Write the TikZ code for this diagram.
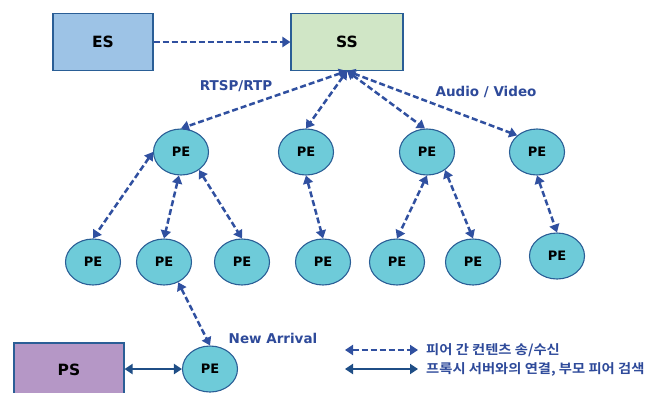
\documentclass[tikz,border=0pt]{standalone}
\usepackage{fontspec}
\setmainfont{DejaVu Sans}
\newfontfamily\krfont{Noto Sans CJK KR}[UprightFont=* Bold]
\usetikzlibrary{arrows.meta,shapes.geometric}
\definecolor{esfill}{HTML}{9DC3E6}
\definecolor{ssfill}{HTML}{D0E6C6}
\definecolor{psfill}{HTML}{B597C6}
\definecolor{pefill}{HTML}{6ECBD9}
\definecolor{bordc}{HTML}{2A5E96}
\definecolor{dashc}{HTML}{3050A0}
\definecolor{solidc}{HTML}{1F4E86}
\definecolor{labc}{HTML}{2E4A9A}
\tikzset{
  boxnode/.style={draw=bordc, line width=1.1pt, minimum width=#1, inner sep=0pt, font=\fontsize{15.5}{15.5}\selectfont\bfseries},
  penode/.style={ellipse, draw=bordc, line width=1.1pt, fill=pefill, minimum width=55pt, minimum height=46pt, inner sep=0pt, font=\fontsize{13}{13}\selectfont\bfseries},
  dasharrow/.style={draw=dashc, line width=2.5pt, dash pattern=on 6pt off 3pt, {Triangle[width=10pt,length=8pt]}-{Triangle[width=10pt,length=8pt]}},
  solidarrow/.style={draw=solidc, line width=2.5pt, {Triangle[width=10pt,length=8pt]}-{Triangle[width=10pt,length=8pt]}},
  lab/.style={text=labc, font=\fontsize{13.5}{13.5}\selectfont\bfseries},
  krlab/.style={text=labc, anchor=west, inner sep=0pt, font=\krfont\fontsize{13}{13}\selectfont}
}
\begin{document}
\begin{tikzpicture}[x=1pt,y=-1pt]
\useasboundingbox (0,0) rectangle (660,392);
% boxes
\node[boxnode=100pt, minimum height=57pt, fill=esfill] (es) at (103,42) {ES};
\node[boxnode=112pt, minimum height=57pt, fill=ssfill] (ss) at (347,42) {SS};
\node[boxnode=110pt, minimum height=54pt, fill=psfill] (ps) at (69,370) {PS};
\coordinate (hub) at (347,71);
% PEs
\node[penode] (pe1) at (181,152) {PE};
\node[penode] (pe2) at (306,152) {PE};
\node[penode] (pe3) at (427,152) {PE};
\node[penode] (pe4) at (537,152) {PE};
\node[penode] (a) at (93,262) {PE};
\node[penode] (b) at (164,262) {PE};
\node[penode] (c) at (242,262) {PE};
\node[penode] (d) at (323,262) {PE};
\node[penode] (e) at (397,262) {PE};
\node[penode] (f) at (473,262) {PE};
\node[penode] (g) at (557,256) {PE};
\node[penode] (pn) at (210,369) {PE};
% arrows
\draw[draw=dashc, line width=2.5pt, dash pattern=on 6pt off 3pt, -{Triangle[width=10pt,length=8pt]}] (es) -- (ss);
\draw[dasharrow] (hub) -- (pe1.north);
\draw[dasharrow] (hub) -- (pe2.north);
\draw[dasharrow] (hub) -- (pe3.95);
\draw[dasharrow] (hub) -- (pe4.140);
\draw[dasharrow] (pe1.west) -- (a.north);
\draw[dasharrow] (pe1.265) -- (b.north);
\draw[dasharrow] (pe1.-45) -- (c.north);
\draw[dasharrow] (pe2.south) -- (d.north);
\draw[dasharrow] (pe3.south) -- (e.north);
\draw[dasharrow] (pe3.-45) -- (f.north);
\draw[dasharrow] (pe4.south) -- (g.north);
\draw[dasharrow] (b.-55) -- (pn.north);
\draw[solidarrow] (ps.east |- pn) -- (pn.west);
% labels
\node[lab] (l1) at (236,86) {RTSP/RTP};
\node[lab] (l2) at (486,92) {Audio / Video};
\node[lab] (l3) at (273,338) {New Arrival};
% legend
\coordinate (d1) at (345,350);
\coordinate (d2) at (418,350);
\coordinate (s1) at (345,369);
\coordinate (s2) at (418,369);
\draw[dasharrow] (d1) -- (d2);
\draw[solidarrow] (s1) -- (s2);
\node[krlab] (k1) at (426,350) {\scalebox{1.1}[1]{피어 간 컨텐츠 송/수신}};
\node[krlab] (k2) at (426,369) {\scalebox{1.1}[1]{프록시 서버와의 연결, 부모 피어 검색}};
\end{tikzpicture}
\end{document}
